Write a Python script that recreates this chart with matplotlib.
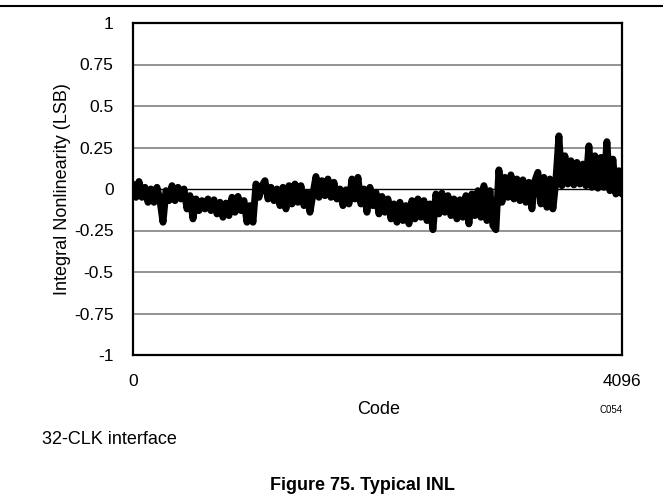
import numpy as np
import matplotlib
matplotlib.use("Agg")
import matplotlib.pyplot as plt
from matplotlib.lines import Line2D

# INL samples (evenly spaced across the code range)
inl = [
    0.03, -0.05, 0.045, -0.05, 0.01, -0.08, 0.0, -0.08, 0.01, -0.07,
    -0.20, -0.01, -0.07, 0.02, -0.07, 0.01, -0.06, 0.0, -0.12, -0.04,
    -0.18, -0.06, -0.13, -0.07, -0.12, -0.06, -0.13, -0.065, -0.15, -0.08,
    -0.17, -0.085, -0.16, -0.05, -0.14, -0.045, -0.13, -0.07, -0.20, -0.10,
    -0.20, 0.03, -0.05, 0.02, 0.05, -0.06, 0.01, -0.07, 0.0, -0.10,
    0.01, -0.12, 0.02, -0.09, 0.03, -0.08, 0.02, -0.10, -0.02, -0.14,
    -0.03, 0.075, -0.05, 0.05, -0.04, 0.06, -0.05, 0.04, -0.06, 0.0,
    -0.10, -0.005, -0.09, 0.06, -0.06, 0.07, -0.09, 0.0, -0.14, 0.01,
    -0.10, -0.02, -0.15, -0.045, -0.14, -0.06, -0.18, -0.09, -0.20, -0.08,
    -0.19, -0.10, -0.21, -0.07, -0.18, -0.06, -0.17, -0.07, -0.19, -0.09,
    -0.245, -0.03, -0.15, -0.025, -0.14, -0.04, -0.16, -0.06, -0.18, -0.065,
    -0.17, -0.04, -0.21, -0.03, -0.16, -0.01, -0.17, 0.02, -0.19, -0.01,
    -0.22, -0.245, 0.115, -0.08, 0.07, -0.05, 0.085, -0.06, 0.06, -0.07,
    0.055, -0.08, 0.04, -0.12, 0.05, 0.10, -0.09, 0.07, -0.11, 0.06,
    -0.12, 0.05, 0.32, 0.02, 0.20, 0.03, 0.17, 0.025, 0.16, 0.03,
    0.15, 0.02, 0.26, 0.01, 0.20, 0.005, 0.19, 0.01, 0.285, -0.01,
    0.18, -0.03, 0.11, -0.03,
]
codes = np.linspace(0, 4095, len(inl))

y_ticks = [-1, -0.75, -0.5, -0.25, 0, 0.25, 0.5, 0.75, 1]
y_tick_labels = ["-1", "-0.75", "-0.5", "-0.25", "0", "0.25", "0.5", "0.75", "1"]
x_ticks = [0, 4096]
x_tick_labels = ["0", "4096"]

plt.rcParams['font.family'] = ['Liberation Sans', 'DejaVu Sans']

W, H = 663, 499
fig = plt.figure(figsize=(W / 100, H / 100), dpi=100)
ax = fig.add_axes([133 / W, 1 - 355 / H, (622 - 133) / W, (355 - 23) / H])

for yv in y_ticks:
    if yv in (-1, 1):
        continue
    if yv == 0:
        ax.axhline(yv, color="black", lw=1.0, zorder=1)
    else:
        ax.axhline(yv, color="#808080", lw=1.2, zorder=1)

ax.plot(codes, inl, color="black", lw=5.0, solid_joinstyle="round",
        solid_capstyle="round", zorder=3)

ax.set_xlim(0, 4096)
ax.set_ylim(-1, 1)
ax.set_yticks(y_ticks)
ax.set_yticklabels(y_tick_labels)
ax.set_xticks(x_ticks)
ax.set_xticklabels(x_tick_labels)
ax.tick_params(axis="both", length=0, labelsize=12.5)
ax.tick_params(axis="y", pad=14)
ax.tick_params(axis="x", pad=14)
for s in ax.spines.values():
    s.set_linewidth(1.6)
    s.set_color("black")

ax.set_ylabel("Integral Nonlinearity (LSB)", fontsize=13)
ax.yaxis.set_label_coords(-62 / (622 - 133) - 0.0, 0.5)

fig.text(379 / W, 1 - 410 / H, "Code", ha="center", va="center", fontsize=13)
fig.text(611 / W, 1 - 410 / H, "C054", ha="center", va="center", fontsize=7)
fig.text(42 / W, 1 - 439 / H, "32-CLK interface", ha="left", va="center", fontsize=13)
fig.text(362 / W, 1 - 485 / H, "Figure 75. Typical INL", ha="center", va="center",
         fontsize=13, fontweight="bold")

fig.add_artist(Line2D([0, 1], [1 - 6 / H, 1 - 6 / H], color="black", lw=1.5,
                      transform=fig.transFigure))

fig.savefig("out.png", dpi=100)
